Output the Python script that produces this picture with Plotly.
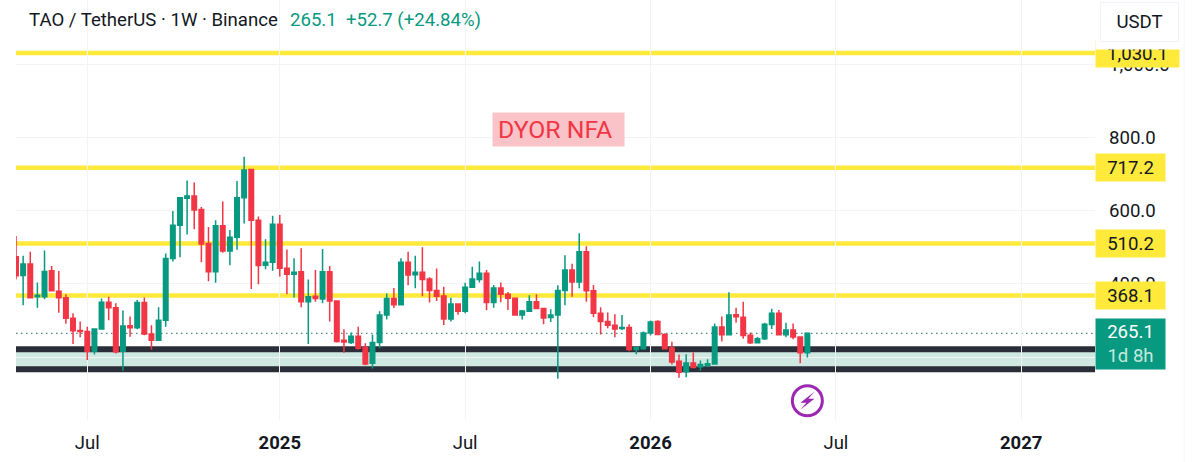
import pandas as pd
import plotly.graph_objects as go

# weekly candles
weeks = pd.date_range("2024-04-22", periods=112, freq="7D")
opens = [474, 423, 454, 365, 365, 436, 380, 362, 306, 273, 270, 216, 277, 350, 335, 216,
         286, 280, 349, 263, 246, 301, 469, 560, 634, 640, 603, 510, 433, 559, 490, 527,
         635, 712, 574, 451, 459, 563, 443, 426, 433, 351, 366, 359, 433, 353, 246, 240,
         257, 226, 183, 240, 315, 360, 343, 459, 425, 432, 413, 382, 367, 304, 345, 325,
         391, 412, 429, 349, 389, 372, 361, 315, 325, 351, 333, 308, 315, 382, 438, 405,
         488, 381, 320, 297, 287, 278, 281, 221, 223, 266, 297, 262, 225, 189, 160, 184,
         174, 177, 181, 282, 261, 316, 309, 260, 239, 250, 289, 320, 261, 274, 255, 212]
highs = [531, 477, 488, 404, 491, 449, 435, 372, 320, 297, 283, 278, 360, 365, 347, 327,
         311, 356, 363, 287, 336, 483, 599, 636, 682, 677, 610, 555, 574, 625, 547, 681,
         747, 713, 584, 522, 586, 588, 494, 470, 497, 412, 438, 495, 449, 355, 276, 267,
         283, 238, 262, 325, 374, 389, 470, 488, 477, 500, 418, 442, 392, 362, 347, 403,
         447, 461, 438, 397, 404, 378, 363, 329, 369, 372, 334, 331, 396, 478, 455, 538,
         503, 397, 336, 322, 317, 315, 290, 230, 270, 300, 301, 265, 242, 207, 208, 213,
         191, 194, 292, 311, 377, 335, 351, 267, 255, 294, 332, 329, 294, 292, 256, 267]
lows = [412, 342, 361, 335, 358, 379, 321, 291, 236, 254, 192, 207, 276, 301, 210, 163,
        256, 276, 260, 220, 246, 283, 461, 473, 535, 549, 459, 407, 403, 485, 451, 493,
        565, 386, 399, 440, 436, 420, 372, 363, 336, 236, 351, 347, 297, 240, 212, 236,
        220, 178, 169, 224, 303, 334, 341, 396, 388, 366, 349, 353, 288, 297, 316, 320,
        390, 404, 328, 335, 350, 329, 314, 303, 324, 332, 290, 296, 141, 342, 365, 388,
        351, 309, 262, 279, 254, 274, 216, 208, 220, 259, 261, 222, 180, 144, 145, 170,
        163, 173, 181, 243, 261, 294, 250, 236, 239, 247, 277, 260, 254, 249, 183, 199]
closes = [422, 454, 362, 369, 434, 381, 362, 306, 272, 270, 216, 277, 350, 335, 215, 285,
          280, 349, 263, 246, 301, 469, 560, 635, 640, 602, 509, 433, 559, 490, 527, 635,
          711, 574, 450, 459, 563, 443, 426, 432, 351, 365, 360, 433, 353, 243, 241, 257,
          224, 181, 240, 315, 360, 343, 459, 424, 432, 412, 382, 366, 304, 345, 325, 391,
          413, 429, 349, 389, 372, 361, 315, 326, 351, 333, 307, 315, 382, 438, 405, 488,
          381, 320, 297, 287, 277, 281, 221, 226, 266, 296, 262, 223, 187, 159, 184, 172,
          180, 182, 282, 261, 315, 310, 259, 239, 250, 290, 320, 261, 274, 255, 212, 265.1]

# horizontal levels drawn on the chart
yellow_levels = [1030.1, 717.2, 510.2, 368.1]
yellow_labels = ["1,030.1", "717.2", "510.2", "368.1"]
zone_top = 221.4
zone_bottom = 166.8
last_price = 265.1

y_ticks = [200, 400, 600, 800, 1000]
y_tick_labels = ["200.0", "400.0", "600.0", "800.0", "1,000.0"]
x_ticks = ["2024-07-01", "2025-01-06", "2025-07-07", "2026-01-05", "2026-07-06", "2027-01-04"]
x_tick_labels = ["Jul", "<b>2025</b>", "Jul", "<b>2026</b>", "Jul", "<b>2027</b>"]

GREEN = "#089981"
RED = "#f23645"
YELLOW = "#ffe93b"
DARK = "#2a2e39"
TEXT = "#131722"
GRID = "#f2f3f5"
PURPLE = "#9c27b0"
FONT = "Roboto"

WIDTH, HEIGHT = 1200, 462
LEFT, RIGHT, BOTTOM = 16, 105, 42
PLOT_W = WIDTH - LEFT - RIGHT
PLOT_H = HEIGHT - BOTTOM


def px_x(px):
    return (px - LEFT) / PLOT_W


def px_y(py):
    return 1 - py / PLOT_H


fig = go.Figure()

fig.add_trace(
    go.Candlestick(
        x=weeks,
        open=opens,
        high=highs,
        low=lows,
        close=closes,
        increasing=dict(line=dict(color=GREEN, width=1.5), fillcolor=GREEN),
        decreasing=dict(line=dict(color=RED, width=1.5), fillcolor=RED),
        whiskerwidth=0,
        showlegend=False,
        hoverinfo="skip",
    )
)

# support zone and levels sit under the candles
fig.add_shape(type="rect", xref="paper", x0=0, x1=1, y0=zone_bottom, y1=zone_top,
              fillcolor="#cfe8e1", line_width=0, layer="below")
for level in [zone_top, zone_bottom]:
    fig.add_shape(type="line", xref="paper", x0=0, x1=1, y0=level, y1=level,
                  line=dict(color=DARK, width=6), layer="below")
for level in yellow_levels:
    fig.add_shape(type="line", xref="paper", x0=0, x1=1, y0=level, y1=level,
                  line=dict(color=YELLOW, width=4.5), layer="below")
fig.add_shape(type="line", xref="paper", x0=0, x1=1, y0=last_price, y1=last_price,
              line=dict(color="#4f8f83", width=1.2, dash="1.5px,3.5px"), layer="below")

# faint edge of the price scale
fig.add_shape(type="line", xref="paper", yref="paper", x0=px_x(1184), x1=px_x(1184), y0=px_y(462), y1=1,
              line=dict(color="#f5f6f8", width=1))

# lightning badge under the last candle
badge_x = weeks[-1]
badge_y = 81
fig.add_shape(type="circle", xsizemode="pixel", ysizemode="pixel", xanchor=badge_x, yanchor=badge_y,
              x0=-15, x1=15, y0=-15, y1=15, line=dict(color=PURPLE, width=3))
fig.add_shape(type="path", xsizemode="pixel", ysizemode="pixel", xanchor=badge_x, yanchor=badge_y,
              path="M 7 9 L -7 -2 L -1 -2 L -7 -9 L 7 2 L 1 2 Z",
              fillcolor=PURPLE, line_width=0)

# header text
fig.add_annotation(text="TAO / TetherUS · 1W · Binance", xref="paper", yref="paper",
                   x=px_x(26.5), y=px_y(20), xanchor="left", yanchor="middle", showarrow=False,
                   font=dict(family=FONT, size=18.6, color=TEXT))
fig.add_annotation(text="265.1  +52.7 (+24.84%)", xref="paper", yref="paper",
                   x=px_x(287.5), y=px_y(20), xanchor="left", yanchor="middle", showarrow=False,
                   font=dict(family=FONT, size=18.6, color=GREEN))

# note box, the text sits left of its centre
fig.add_annotation(text=" ", xref="paper", yref="paper",
                   x=px_x(558.5), y=px_y(129.5), xanchor="center", yanchor="middle",
                   showarrow=False, width=131, height=33,
                   bgcolor="#f9c3c8", borderpad=0)
fig.add_annotation(text="DYOR NFA", xref="paper", yref="paper",
                   x=px_x(555), y=px_y(129.5), xanchor="center", yanchor="middle",
                   showarrow=False, font=dict(family=FONT, size=24.8, color=RED))

# price tags on the right
for level, label in zip(yellow_levels, yellow_labels):
    fig.add_annotation(text=label, xref="paper", yref="y", x=px_x(1095), y=level,
                       xanchor="left", yanchor="middle", showarrow=False,
                       width=83 if level > 1000 else 69, height=27,
                       bgcolor=YELLOW, borderpad=0,
                       font=dict(family=FONT, size=18.6, color=TEXT))
fig.add_annotation(text=f"{last_price}<br><span style='color:#c4e8df'>1d 8h</span>",
                   xref="paper", yref="y", x=px_x(1095), y=last_price - 28.4,
                   xanchor="left", yanchor="middle", showarrow=False,
                   width=69, height=50, bgcolor=GREEN, borderpad=0,
                   font=dict(family=FONT, size=18.6, color="white"))

# currency button covers the top of the first tag
fig.add_annotation(text=" ", xref="paper", yref="paper", x=px_x(1095), y=1,
                   xanchor="left", yanchor="top", showarrow=False,
                   width=87, height=48, bgcolor="white", borderpad=0)
fig.add_annotation(text="USDT", xref="paper", yref="paper", x=px_x(1139), y=px_y(21.5),
                   xanchor="center", yanchor="middle",
                   showarrow=False, width=77, height=38, bgcolor="white",
                   bordercolor="#f0f3fa", borderwidth=1, borderpad=0,
                   font=dict(family=FONT, size=18.6, color=TEXT))

fig.update_layout(
    width=WIDTH,
    height=HEIGHT,
    margin=dict(l=LEFT, r=RIGHT, t=0, b=BOTTOM),
    paper_bgcolor="white",
    plot_bgcolor="white",
    showlegend=False,
    hovermode=False,
    boxgap=0.1,
    font=dict(family=FONT, color=TEXT),
)
fig.update_xaxes(
    type="date",
    range=["2024-04-22", "2027-03-17 10:00"],
    tickmode="array",
    tickvals=x_ticks,
    ticktext=x_tick_labels,
    tickfont=dict(family=FONT, size=18.5, color=TEXT),
    ticks="",
    ticklabelstandoff=9,
    showgrid=True,
    gridcolor=GRID,
    gridwidth=1,
    zeroline=False,
    showline=False,
    rangeslider_visible=False,
)
fig.update_yaxes(
    side="right",
    range=[28.4, 1175],
    tickmode="array",
    tickvals=y_ticks,
    ticktext=y_tick_labels,
    tickfont=dict(family=FONT, size=18.6, color=TEXT),
    ticks="",
    ticklabelstandoff=13,
    showgrid=True,
    gridcolor=GRID,
    gridwidth=1,
    zeroline=False,
    showline=False,
)

# the page's default body margin would shift the chart by 8px
fig.write_html(
    "out.html",
    config={"displayModeBar": False},
    post_script="document.body.style.margin = '0';",
)
